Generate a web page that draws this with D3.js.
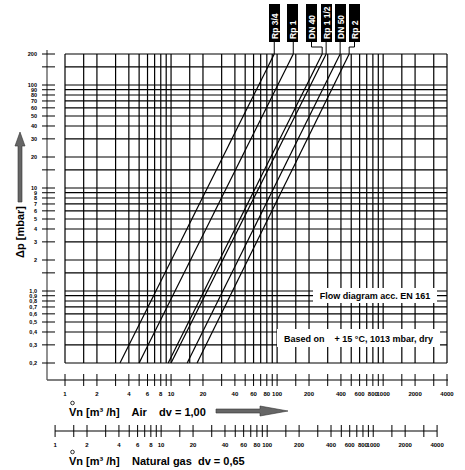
<!DOCTYPE html>
<html><head><meta charset="utf-8">
<script src="https://cdn.jsdelivr.net/npm/d3@7"></script>
<style>body{margin:0;background:#fff}text{font-family:"Liberation Sans",Arial,sans-serif;font-weight:bold;white-space:pre}</style>
</head><body><svg id="c" width="465" height="470"></svg>
<script>
// pipe sizes, air flow (m3/h) read at dp = 0.2 and dp = 200 mbar
var sizes = ["Rp 3/4", "Rp 1", "DN 40", "Rp 1 1/2", "DN 50", "Rp 2"];
var flowLow = [3.3, 5.0, 9.4, 10, 14.2, 17.6];
var flowHigh = [94, 142, 266, 290, 393, 478];
var dpRange = [0.2, 200];
var gridFlow = [1,1.5,2,3,4,5,6,7,8,9,10,15,20,30,40,50,60,70,80,90,100,150,200,300,400,500,600,700,800,900,1000,1500,2000,3000,4000];
var flowLabels = [1,2,4,6,8,10,20,40,60,80,100,200,400,600,800,1000,2000,4000];
var gridDp = [0.2,0.3,0.4,0.5,0.6,0.7,0.8,0.9,1,1.5,2,3,4,5,6,7,8,9,10,15,20,30,40,50,60,70,80,90,100,150,200];
var dpLabels = [0.2,0.3,0.4,0.5,0.6,0.7,0.8,0.9,1,2,3,4,5,6,7,8,9,10,20,30,40,50,60,70,80,90,100,200];
var gasDensity = 0.65;

var svg = d3.select("#c");
var x = d3.scaleLog().domain([1, 4000]).range([65, 447]);
var y = d3.scaleLog().domain(dpRange).range([363, 54]);
var xGas = function(g) { return x(g * Math.sqrt(gasDensity)); };

var fmtDp = function(d) {
    return d < 1 ? String(d).replace(".", ",") : (d == 1 ? "1,0" : String(d));
};

/* grid */
svg.append("g").selectAll("line").data(gridFlow).enter().append("line")
    .attr("x1", x).attr("x2", x).attr("y1", y(200)).attr("y2", y(0.2))
    .attr("stroke", "#000").attr("stroke-width", 1.2);
svg.append("g").selectAll("line").data(gridDp).enter().append("line")
    .attr("x1", x(1)).attr("x2", x(4000)).attr("y1", y).attr("y2", y)
    .attr("stroke", "#000").attr("stroke-width", 1.2);

/* text boxes */
function box(x0, y0, w, h, t) {
    svg.append("rect").attr("x", x0).attr("y", y0).attr("width", w).attr("height", h).attr("fill", "#fff");
    svg.append("text").attr("x", x0 + w / 2).attr("y", y0 + h / 2 + 3.5)
        .attr("text-anchor", "middle").attr("font-size", 9).text(t);
}
box(313, 288, 124, 15, "Flow diagram acc. EN 161");
box(277, 329, 163, 18, "Based on    + 15 °C, 1013 mbar, dry");

/* flow lines */
svg.append("g").selectAll("line").data(sizes).enter().append("line")
    .attr("x1", function(d, i) { return x(flowLow[i]); })
    .attr("y1", y(dpRange[0]))
    .attr("x2", function(d, i) { return x(flowHigh[i]); })
    .attr("y2", y(dpRange[1]))
    .attr("stroke", "#000").attr("stroke-width", 1.2);

/* labels on top */
var boxX = [269, 287, 306, 321, 335, 349];
sizes.forEach(function(s, i) {
    var xt = x(flowHigh[i]), bc = boxX[i] + 5.5;
    var path = Math.abs(xt - bc) < 2 ? [[xt, 54], [xt, 41]] : [[xt, 54], [xt, 47], [bc, 47], [bc, 41]];
    svg.append("path").attr("d", d3.line()(path)).attr("fill", "none").attr("stroke", "#000");
    svg.append("rect").attr("x", boxX[i]).attr("y", 4).attr("width", 11).attr("height", 38).attr("fill", "#000");
    svg.append("text").attr("transform", "translate(" + (bc + 3.2) + ",39) rotate(-90)")
        .attr("fill", "#fff").attr("font-size", 8.5).text(s);
});

/* left axis */
svg.append("line").attr("x1", 47).attr("x2", 47).attr("y1", 50).attr("y2", 380).attr("stroke", "#555").attr("stroke-width", 1.3);
svg.append("g").selectAll("line").data(gridDp).enter().append("line")
    .attr("x1", 42).attr("x2", 55).attr("y1", y).attr("y2", y).attr("stroke", "#000");
svg.append("g").selectAll("text").data(dpLabels).enter().append("text")
    .attr("x", 37).attr("y", function(d) { return y(d) + 2; })
    .attr("text-anchor", "end").attr("font-size", 5.5).text(fmtDp);
svg.append("text").attr("transform", "translate(24,232) rotate(-90)")
    .attr("text-anchor", "middle").attr("font-size", 11).text("Δp [mbar]");
svg.append("path").attr("d", "M18,202 L18,146 L15,146 L20,132 L25,146 L22,146 L22,202 Z")
    .attr("fill", "#666").attr("stroke", "#333").attr("stroke-width", 0.6);

/* air axis */
svg.append("line").attr("x1", 47).attr("x2", 448).attr("y1", 380).attr("y2", 380).attr("stroke", "#555").attr("stroke-width", 1.3);
svg.append("g").selectAll("line").data(gridFlow).enter().append("line")
    .attr("x1", x).attr("x2", x).attr("y1", 374).attr("y2", 386).attr("stroke", "#000");
svg.append("g").selectAll("text").data(flowLabels).enter().append("text")
    .attr("x", x).attr("y", 396).attr("text-anchor", "middle").attr("font-size", 6).text(String);
svg.append("text").attr("x", 69).attr("y", 416).attr("font-size", 11)
    .text("Vn [m³ /h]    Air    dv = 1,00");
svg.append("circle").attr("cx", 72.5).attr("cy", 403).attr("r", 1.8).attr("fill", "none").attr("stroke", "#000").attr("stroke-width", 0.8);
svg.append("path").attr("d", "M216,409 L260,409 L260,406 L288,411 L260,416 L260,413 L216,413 Z")
    .attr("fill", "#666").attr("stroke", "#333").attr("stroke-width", 0.6);

/* natural gas axis */
svg.append("line").attr("x1", xGas(1)).attr("x2", xGas(4000)).attr("y1", 431).attr("y2", 431).attr("stroke", "#555").attr("stroke-width", 1.3);
svg.append("g").selectAll("line").data(gridFlow).enter().append("line")
    .attr("x1", xGas).attr("x2", xGas).attr("y1", 425).attr("y2", 437).attr("stroke", "#000");
svg.append("g").selectAll("text").data(flowLabels).enter().append("text")
    .attr("x", xGas).attr("y", 447).attr("text-anchor", "middle").attr("font-size", 6).text(String);
svg.append("text").attr("x", 69).attr("y", 465).attr("font-size", 11)
    .text("Vn [m³ /h]    Natural gas  dv = 0,65");
svg.append("circle").attr("cx", 72.5).attr("cy", 452).attr("r", 1.8).attr("fill", "none").attr("stroke", "#000").attr("stroke-width", 0.8);
</script></body></html>
